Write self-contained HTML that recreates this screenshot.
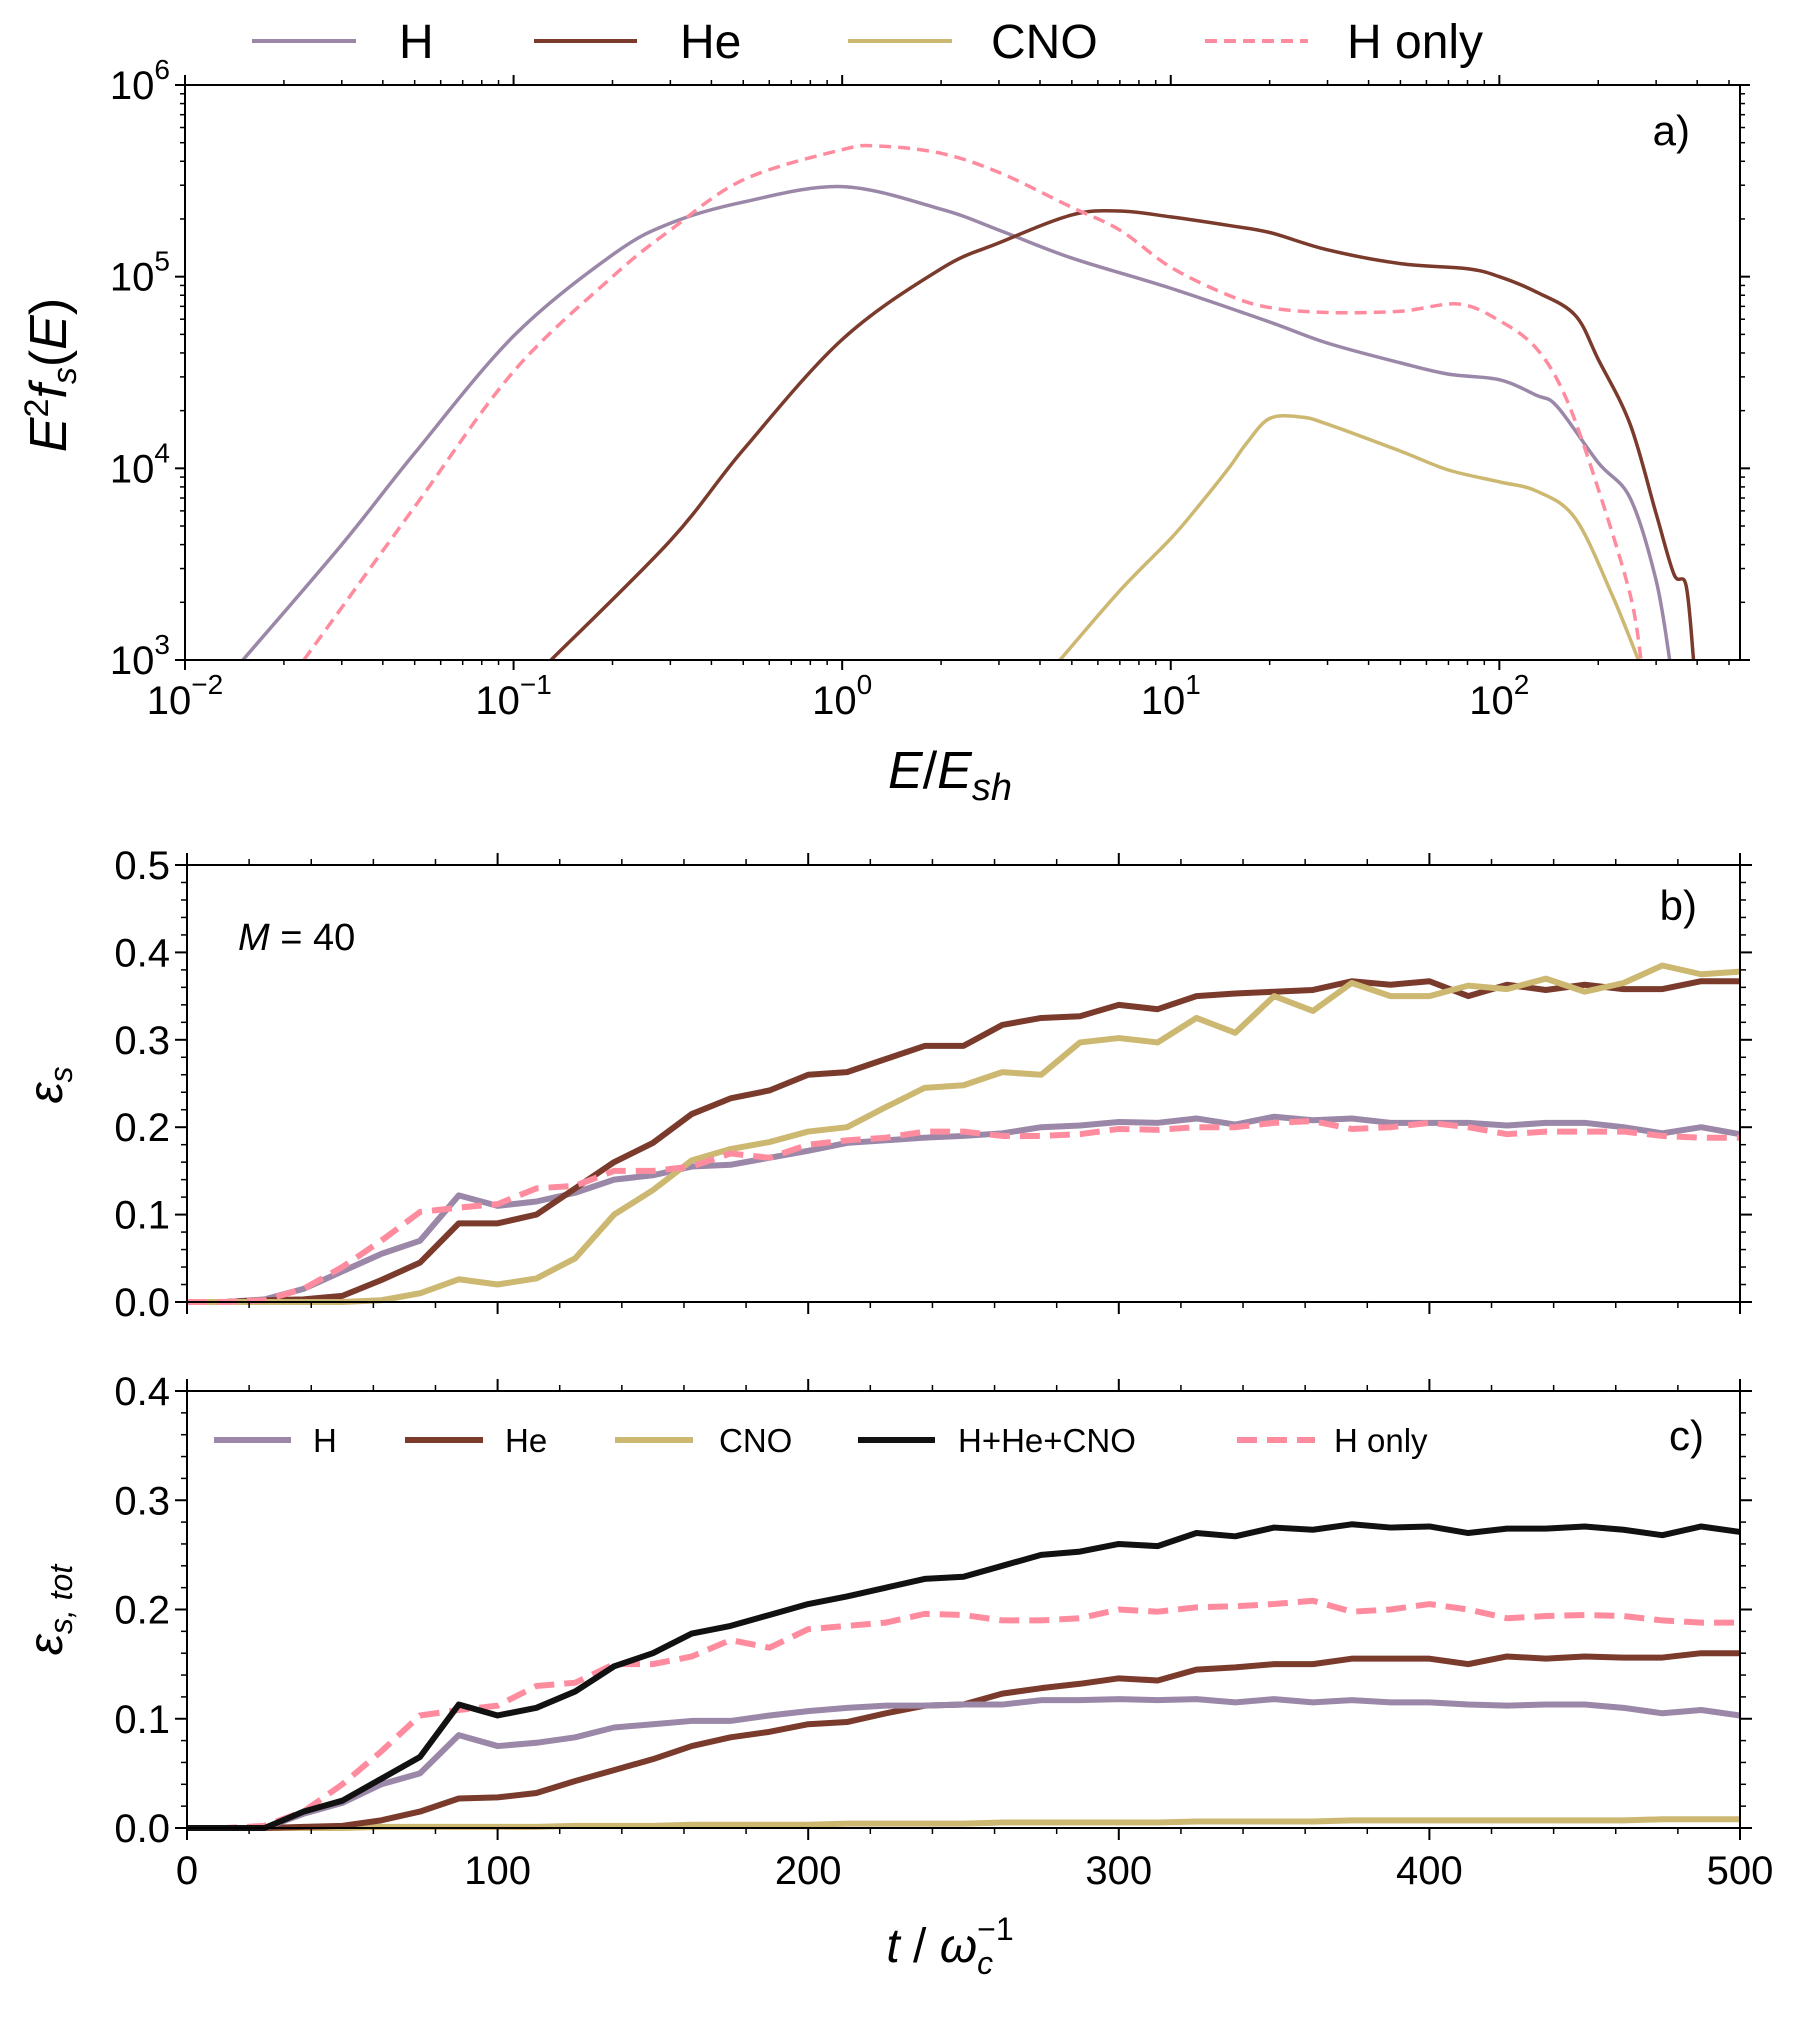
<!DOCTYPE html>
<html><head><meta charset="utf-8"><style>
html,body{margin:0;padding:0;background:#fff;}
svg{display:block;font-family:"Liberation Sans","DejaVu Sans",sans-serif;}
</style></head><body>
<svg id="c" width="1793" height="2018" viewBox="0 0 1793 2018" xmlns="http://www.w3.org/2000/svg"></svg>
<script>
// ---- Panel a data (E/E_sh, E^2 f_s(E)) ----
const aH_E = [0.015,0.03,0.05,0.1,0.2,0.3,0.5,1,2,3,5,10,20,30,50,70,100,130,150,200,250,300,330];
const aH_V = [1e3,4e3,1.2e4,4.9e4,1.3e5,1.9e5,2.45e5,2.95e5,2.25e5,1.75e5,1.25e5,8.7e4,5.8e4,4.5e4,3.55e4,3.1e4,2.9e4,2.4e4,2.1e4,1.07e4,7e3,2.6e3,1e3];
const aHo_E = [0.023,0.05,0.1,0.2,0.3,0.5,1,1.3,2,3,5,7,10,15,20,30,50,75,100,130,160,200,250,270];
const aHo_V = [1e3,6.3e3,3.2e4,1.0e5,1.75e5,3.2e5,4.6e5,4.8e5,4.4e5,3.5e5,2.3e5,1.75e5,1.12e5,8e4,6.9e4,6.5e4,6.6e4,7.2e4,5.9e4,4.2e4,2.3e4,7.8e3,2.2e3,1e3];
const aHe_E = [0.13,0.3,0.5,1,2,3,5,7,10,15,20,30,50,80,100,130,170,200,250,300,340,370,390];
const aHe_V = [1e3,4.2e3,1.25e4,4.7e4,1.1e5,1.5e5,2.1e5,2.2e5,2.05e5,1.85e5,1.7e5,1.38e5,1.17e5,1.1e5,1e5,8.3e4,6.3e4,3.7e4,1.7e4,5.8e3,2.8e3,2.45e3,1e3];
const aC_E = [4.6,7,10,12,15,17,20,25,30,50,70,100,130,170,220,265];
const aC_V = [1e3,2.3e3,4.3e3,6.2e3,1.0e4,1.35e4,1.82e4,1.85e4,1.7e4,1.23e4,9.8e3,8.5e3,7.6e3,5.5e3,2.2e3,1e3];
// ---- Panel b/c data ----
const tVals = [0,12.5,25,37.5,50,62.5,75,87.5,100,112.5,125,137.5,150,162.5,175,187.5,200,212.5,225,237.5,250,262.5,275,287.5,300,312.5,325,337.5,350,362.5,375,387.5,400,412.5,425,437.5,450,462.5,475,487.5,500];
const bH = [0,0,0.003,0.015,0.035,0.055,0.07,0.122,0.11,0.115,0.125,0.14,0.145,0.155,0.157,0.165,0.173,0.182,0.185,0.188,0.19,0.193,0.2,0.202,0.206,0.205,0.21,0.203,0.212,0.208,0.21,0.205,0.205,0.205,0.202,0.205,0.205,0.2,0.193,0.2,0.192];
const bHe = [0,0,0.002,0.003,0.007,0.025,0.045,0.09,0.09,0.1,0.13,0.16,0.182,0.215,0.233,0.242,0.26,0.263,0.278,0.293,0.293,0.317,0.325,0.327,0.34,0.335,0.35,0.353,0.355,0.357,0.367,0.363,0.367,0.35,0.363,0.357,0.363,0.358,0.358,0.367,0.367];
const bCNO = [0,0,0,0,0,0.002,0.01,0.026,0.02,0.027,0.05,0.1,0.128,0.162,0.175,0.183,0.195,0.2,0.223,0.245,0.248,0.263,0.26,0.297,0.302,0.297,0.325,0.308,0.35,0.333,0.365,0.35,0.35,0.362,0.358,0.37,0.355,0.365,0.385,0.375,0.378];
const bHonly = [0,0,0.002,0.015,0.04,0.07,0.103,0.108,0.112,0.13,0.133,0.15,0.15,0.155,0.17,0.165,0.18,0.185,0.188,0.195,0.195,0.19,0.19,0.192,0.198,0.197,0.2,0.2,0.205,0.207,0.198,0.2,0.205,0.2,0.192,0.195,0.195,0.195,0.19,0.188,0.188];
const cTot = [0,0,0,0.015,0.025,0.045,0.065,0.113,0.103,0.11,0.125,0.148,0.16,0.178,0.185,0.195,0.205,0.212,0.22,0.228,0.23,0.24,0.25,0.253,0.26,0.258,0.27,0.267,0.275,0.273,0.278,0.275,0.276,0.27,0.274,0.274,0.276,0.273,0.268,0.276,0.271];
const cH = [0,0,0,0.013,0.023,0.04,0.05,0.085,0.075,0.078,0.083,0.092,0.095,0.098,0.098,0.103,0.107,0.11,0.112,0.112,0.113,0.113,0.117,0.117,0.118,0.117,0.118,0.115,0.118,0.115,0.117,0.115,0.115,0.113,0.112,0.113,0.113,0.11,0.105,0.108,0.103];
const cHe = [0,0,0,0.001,0.002,0.007,0.015,0.027,0.028,0.032,0.043,0.053,0.063,0.075,0.083,0.088,0.095,0.097,0.105,0.112,0.113,0.123,0.128,0.132,0.137,0.135,0.145,0.147,0.15,0.15,0.155,0.155,0.155,0.15,0.157,0.155,0.157,0.156,0.156,0.16,0.16];
const cCNO = [0,0,0,0,0,0.001,0.001,0.001,0.001,0.001,0.002,0.002,0.002,0.003,0.003,0.003,0.003,0.004,0.004,0.004,0.004,0.005,0.005,0.005,0.005,0.005,0.006,0.006,0.006,0.006,0.007,0.007,0.007,0.007,0.007,0.007,0.007,0.007,0.008,0.008,0.008];
const cHonly = [0,0,0.002,0.015,0.04,0.07,0.103,0.108,0.112,0.13,0.133,0.15,0.15,0.157,0.172,0.165,0.182,0.185,0.188,0.196,0.195,0.19,0.19,0.192,0.2,0.198,0.202,0.203,0.205,0.208,0.198,0.2,0.205,0.2,0.192,0.194,0.195,0.194,0.19,0.188,0.188];

const COL = {H:'#9b88a8', He:'#7b3b2c', CNO:'#cdb872', Ho:'#ff8c9e', T:'#111'};
const NS = 'http://www.w3.org/2000/svg';
const svg = document.getElementById('c');
function mk(tag, attrs, parent){ const e=document.createElementNS(NS,tag); for(const k in attrs) e.setAttribute(k,attrs[k]); (parent||svg).appendChild(e); return e; }
function txt(x,y,s,size,anchor,extra){ const t=mk('text',Object.assign({x:x,y:y,'font-size':size,'text-anchor':anchor||'start',fill:'#000'},extra||{})); t.innerHTML=s; return t; }
function smoothPath(pts){
  let d='M'+pts[0][0]+','+pts[0][1];
  for(let i=0;i<pts.length-1;i++){
    const p0=pts[Math.max(0,i-1)],p1=pts[i],p2=pts[i+1],p3=pts[Math.min(pts.length-1,i+2)];
    const c1=[p1[0]+(p2[0]-p0[0])/6,p1[1]+(p2[1]-p0[1])/6];
    const c2=[p2[0]-(p3[0]-p1[0])/6,p2[1]-(p3[1]-p1[1])/6];
    d+=' C'+c1[0]+','+c1[1]+' '+c2[0]+','+c2[1]+' '+p2[0]+','+p2[1];
  }
  return d;
}

// ---- Panel a axes ----
const A = {l:185,r:1740,t:85,b:660, xmin:-2, xmax:Math.log10(540), ymin:3, ymax:6};
const ax = v => A.l + (Math.log10(v)-A.xmin)/(A.xmax-A.xmin)*(A.r-A.l);
const ay = v => A.b - (Math.log10(v)-A.ymin)/(A.ymax-A.ymin)*(A.b-A.t);
const ga = mk('g',{});  
const clipA = mk('clipPath',{id:'clipA'}); mk('rect',{x:A.l,y:A.t,width:A.r-A.l,height:A.b-A.t},clipA);
function logLine(E,V,color,dash,name){
  const pts=E.map((e,i)=>[ax(e),ay(V[i])]);
  const p = mk('path',{d:smoothPath(pts),fill:'none',stroke:color,'stroke-width':3.5,'stroke-dasharray':dash||'none','clip-path':'url(#clipA)','stroke-linejoin':'round'},ga);
  
  
}
logLine(aH_E,aH_V,COL.H,null,'series-a-h');
logLine(aHe_E,aHe_V,COL.He,null,'series-a-he');
logLine(aC_E,aC_V,COL.CNO,null,'series-a-cno');
logLine(aHo_E,aHo_V,COL.Ho,'12 7','series-a-h-only');
mk('rect',{x:A.l,y:A.t,width:A.r-A.l,height:A.b-A.t,fill:'none',stroke:'#000','stroke-width':2},ga);
for(let d=-2; d<=2; d++){
  const x=ax(Math.pow(10,d));
  mk('line',{x1:x,y1:A.b,x2:x,y2:A.b+10,stroke:'#000','stroke-width':2},ga);
  mk('line',{x1:x,y1:A.t,x2:x,y2:A.t-10,stroke:'#000','stroke-width':2},ga);
  const t=txt(x,714,'10<tspan font-size="28" dy="-20">'+(d<0?'\u2212'+(-d):d)+'</tspan>',40,'middle',{});
   
  for(let m=2;m<10;m++){ const v=m*Math.pow(10,d); if(Math.log10(v)>A.xmax) break; const xm=ax(v);
    mk('line',{x1:xm,y1:A.b,x2:xm,y2:A.b+5,stroke:'#000','stroke-width':1.5},ga);
    mk('line',{x1:xm,y1:A.t,x2:xm,y2:A.t-5,stroke:'#000','stroke-width':1.5},ga);}
}
for(let d=3; d<=6; d++){
  const y=ay(Math.pow(10,d));
  mk('line',{x1:A.l,y1:y,x2:A.l-10,y2:y,stroke:'#000','stroke-width':2},ga);
  mk('line',{x1:A.r,y1:y,x2:A.r+10,y2:y,stroke:'#000','stroke-width':2},ga);
  const t=txt(170,y+14,'10<tspan font-size="28" dy="-20">'+d+'</tspan>',40,'end',{});
   
  if(d<6) for(let m=2;m<10;m++){ const ym=ay(m*Math.pow(10,d));
    mk('line',{x1:A.l,y1:ym,x2:A.l-5,y2:ym,stroke:'#000','stroke-width':1.5},ga);
    mk('line',{x1:A.r,y1:ym,x2:A.r+5,y2:ym,stroke:'#000','stroke-width':1.5},ga);}
}
let t1=txt(1690,145,'a)',42,'end');  
let xl=txt(950,788,'<tspan font-style="italic">E</tspan>/<tspan font-style="italic">E</tspan><tspan font-style="italic" font-size="38" dy="12">sh</tspan>',52,'middle');
 
let yl=txt(0,0,'<tspan font-style="italic">E</tspan><tspan font-size="34" dy="-18">2</tspan><tspan font-style="italic" dy="18">f</tspan><tspan font-style="italic" font-size="34" dy="10">s</tspan><tspan dy="-10">(</tspan><tspan font-style="italic">E</tspan>)',52,'middle',{transform:'translate(66,375) rotate(-90)'});
 

// top legend
const legTop=[['H',COL.H,null,252,356,399],['He',COL.He,null,534,637,680],['CNO',COL.CNO,null,848,952,991],['H only',COL.Ho,'12 7',1205,1308,1347]];
legTop.forEach(l=>{
  const g=mk('g',{});  
  mk('line',{x1:l[3],y1:41,x2:l[4],y2:41,stroke:l[1],'stroke-width':4,'stroke-dasharray':l[2]||'none'},g);
  const t=mk('text',{x:l[5],y:58,'font-size':48},g); t.textContent=l[0];
});

// ---- Panels b & c ----
function linPanel(P,name){
  const g=mk('g',{});  
  P.x = v => P.l + v/500*(P.r-P.l);
  P.y = v => P.b - v/P.ymax*(P.b-P.t);
  P.g=g; return P;
}
function linLine(P,V,color,dash,name,w){
  const p=mk('polyline',{points:tVals.map((t,i)=>P.x(t)+','+P.y(V[i])).join(' '),fill:'none',stroke:color,'stroke-width':w||6,'stroke-dasharray':dash||'none','stroke-linejoin':'round'},P.g);
  
  
}
function frame(P,showX){
  mk('rect',{x:P.l,y:P.t,width:P.r-P.l,height:P.b-P.t,fill:'none',stroke:'#000','stroke-width':2},P.g);
  for(let v=0; v<=500; v+=20){ const x=P.x(v), major=v%100===0;
    mk('line',{x1:x,y1:P.b,x2:x,y2:P.b+(major?12:6),stroke:'#000','stroke-width':major?2:1.5},P.g);
    mk('line',{x1:x,y1:P.t,x2:x,y2:P.t-(major?12:6),stroke:'#000','stroke-width':major?2:1.5},P.g);
    if(major&&showX){ const t=txt(x,P.b+56,String(v),40,'middle');   }
  }
  for(let i=0;i<=Math.round(P.ymax/0.02);i++){ const v=i*0.02, y=P.y(v), major=i%5===0;
    mk('line',{x1:P.l,y1:y,x2:P.l-(major?12:6),y2:y,stroke:'#000','stroke-width':major?2:1.5},P.g);
    mk('line',{x1:P.r,y1:y,x2:P.r+(major?12:6),y2:y,stroke:'#000','stroke-width':major?2:1.5},P.g);
    if(major){ const t=txt(170,y+14,v.toFixed(1),40,'end');   }
  }
}
const B=linPanel({l:187,r:1740,t:865,b:1302,ymax:0.5},'panel-b');
linLine(B,bH,COL.H,null,'series-b-h');
linLine(B,bHe,COL.He,null,'series-b-he');
linLine(B,bCNO,COL.CNO,null,'series-b-cno');
linLine(B,bHonly,COL.Ho,'20 10','series-b-h-only');
frame(B,false);
let tb=txt(1697,920,'b)',42,'end');  
let tm=txt(238,950,'<tspan font-style="italic">M</tspan> = 40',38,'start');  
let yb=txt(0,0,'<tspan font-style="italic">ε</tspan><tspan font-style="italic" font-size="32" dy="10">s</tspan>',48,'middle',{transform:'translate(62,1085) rotate(-90)'});
 

const C=linPanel({l:187,r:1740,t:1391,b:1828,ymax:0.4},'panel-c');
linLine(C,cCNO,COL.CNO,null,'series-c-cno');
linLine(C,cHe,COL.He,null,'series-c-he');
linLine(C,cH,COL.H,null,'series-c-h');
linLine(C,cHonly,COL.Ho,'20 10','series-c-h-only');
linLine(C,cTot,COL.T,null,'series-c-total');
frame(C,true);
let tc=txt(1704,1450,'c)',42,'end');  
let yc=txt(0,0,'<tspan font-style="italic">ε</tspan><tspan font-style="italic" font-size="32" dy="10">s, tot</tspan>',48,'middle',{transform:'translate(62,1610) rotate(-90)'});
 
let xc=txt(950,1962,'<tspan font-style="italic">t</tspan> / <tspan font-style="italic">ω</tspan><tspan font-style="italic" font-size="32" dy="12">c</tspan><tspan font-size="32" dx="-16" dy="-34">−1</tspan>',48,'middle');
 
const legC=[['H',COL.H,null,214,291,313],['He',COL.He,null,405,483,505],['CNO',COL.CNO,null,615,693,719],['H+He+CNO',COL.T,null,858,935,958],['H only',COL.Ho,'20 10',1237,1315,1334]];
legC.forEach(l=>{
  const g=mk('g',{});  
  mk('line',{x1:l[3],y1:1440,x2:l[4],y2:1440,stroke:l[1],'stroke-width':6,'stroke-dasharray':l[2]||'none'},g);
  const t=mk('text',{x:l[5],y:1452,'font-size':33},g); t.textContent=l[0];
});
</script>
</body></html>
